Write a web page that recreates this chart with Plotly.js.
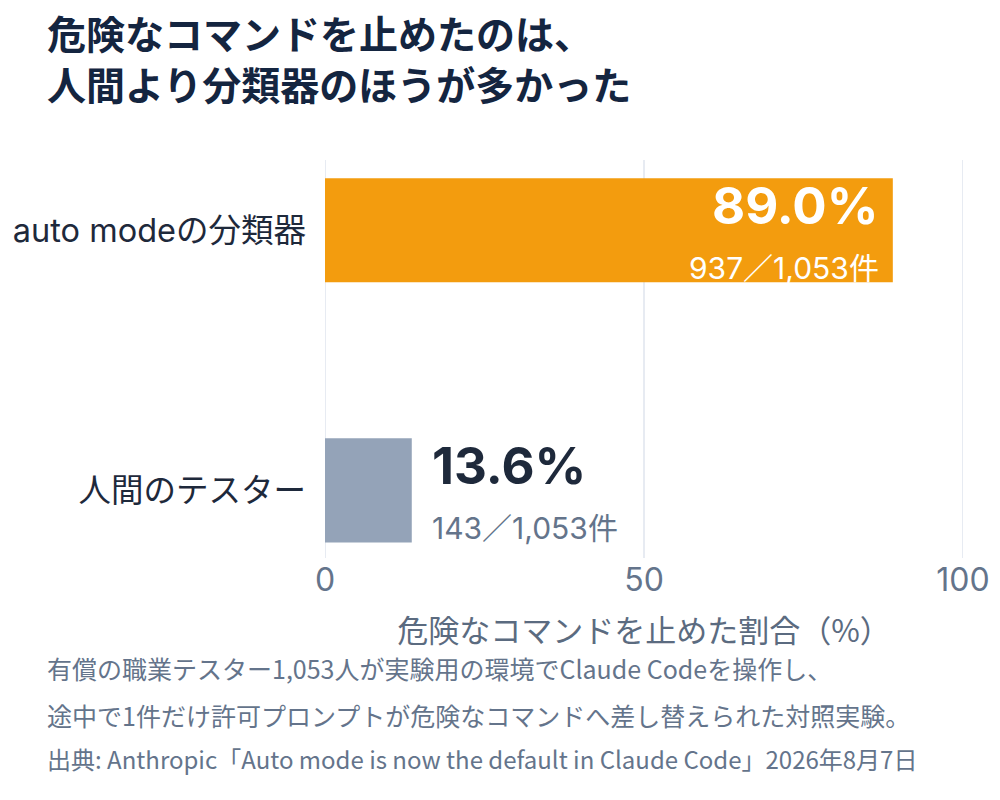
<!DOCTYPE html>
<html>
<head>
<meta charset="utf-8">
<script src="https://cdn.plot.ly/plotly-3.0.1.min.js"></script>
<style>
  html, body { margin: 0; padding: 0; background: #fff; }
  #chart { width: 1000px; height: 800px; }
</style>
</head>
<body>
<div id="chart"></div>
<script>
const categories = ["人間のテスター", "auto modeの分類器"];
const shares = [13.6, 89.0];
const stopped = [143, 937];
const totals = [1053, 1053];
const barColors = ["#94a3b8", "#f39c0e"];
const xTicks = [0, 50, 100];

const titleLines = ["危険なコマンドを止めたのは、", "人間より分類器のほうが多かった"];
const noteLines = [
  "有償の職業テスター1,053人が実験用の環境でClaude Codeを操作し、",
  "途中で1件だけ許可プロンプトが危険なコマンドへ差し替えられた対照実験。"
];
const sourceText = "出典: Anthropic「Auto mode is now the default in Claude Code」2026年8月7日";

const FONT = "Inter, 'Noto Sans CJK JP', sans-serif";
const JP = "'Noto Sans CJK JP', Inter, sans-serif";

// plot box in pixels
const M = { l: 325, r: 37, t: 160, b: 242 };
const plotH = 800 - M.t - M.b;
const plotW = 1000 - M.l - M.r;
const py = px => (800 - M.b - px) / plotH;
const pxX = px => (px - M.l) / plotW;

const fmt = n => n.toLocaleString("en-US");

const annotations = [];

categories.forEach((c, i) => {
  const inside = shares[i] > 50;
  annotations.push({
    x: shares[i], y: c, xref: "x", yref: "y",
    text: "<b>" + shares[i].toFixed(1) + "%</b>",
    showarrow: false,
    xanchor: inside ? "right" : "left",
    xshift: inside ? -12 : 18,
    yshift: 25,
    font: { family: FONT, size: 51, color: inside ? "#ffffff" : "#1e293b" }
  });
  annotations.push({
    x: shares[i], y: c, xref: "x", yref: "y",
    text: stopped[i] + "／" + fmt(totals[i]) + "件",
    showarrow: false,
    xanchor: inside ? "right" : "left",
    xshift: inside ? -12 : 18,
    yshift: -38,
    font: { family: FONT, size: 30, color: inside ? "#ffffff" : "#64748b" }
  });
});

// title, two lines
annotations.push({
  xref: "paper", yref: "paper", x: pxX(45), y: py(58),
  xanchor: "left", yanchor: "middle", align: "left", showarrow: false,
  text: titleLines.map(t => "<b>" + t + "</b>").join("<br>"),
  font: { family: JP, size: 39, color: "#142540" }
});

noteLines.forEach((t, i) => {
  annotations.push({
    xref: "paper", yref: "paper", x: pxX(45), y: py(668 + i * 47),
    xanchor: "left", yanchor: "middle", showarrow: false,
    text: t,
    font: { family: JP, size: 25, color: "#64748b" }
  });
});

annotations.push({
  xref: "paper", yref: "paper", x: pxX(45), y: py(758),
  xanchor: "left", yanchor: "middle", showarrow: false,
  text: sourceText,
  font: { family: JP, size: 24, color: "#64748b" }
});

// vertical grid lines at the tick values
const gridShapes = xTicks.map(v => ({
  type: "line", xref: "x", yref: "paper",
  x0: v, x1: v, y0: 0, y1: 1,
  layer: "below",
  line: { color: "#dfe5ee", width: 1.5 }
}));

Plotly.newPlot("chart", [{
  type: "bar",
  orientation: "h",
  x: shares,
  y: categories,
  width: 0.4,
  marker: { color: barColors },
  hoverinfo: "skip"
}], {
  width: 1000, height: 800,
  margin: M,
  paper_bgcolor: "#ffffff",
  plot_bgcolor: "#ffffff",
  showlegend: false,
  font: { family: FONT },
  xaxis: {
    range: [0, 100],
    tickvals: xTicks,
    showgrid: false,
    zeroline: false, showline: false,
    tickfont: { family: FONT, size: 32, color: "#64748b" },
    title: { text: "危険なコマンドを止めた割合（%）", standoff: 22,
             font: { family: JP, size: 31, color: "#5b6b80" } },
    fixedrange: true
  },
  yaxis: {
    type: "category",
    range: [-0.26, 1.27],
    showgrid: false, zeroline: false, showline: false,
    ticklabelstandoff: 18,
    tickfont: { family: FONT, size: 32.5, color: "#1e293b" },
    fixedrange: true
  },
  shapes: gridShapes,
  annotations: annotations
}, { displayModeBar: false, staticPlot: true });
</script>
</body>
</html>
